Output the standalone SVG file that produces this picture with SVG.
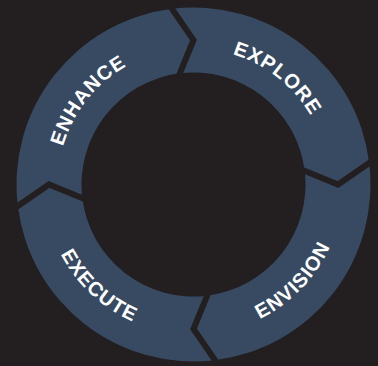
<svg xmlns="http://www.w3.org/2000/svg" width="378" height="366" viewBox="0 0 378 366">
<style>
.seg{fill:#374a62}
.sep{fill:none;stroke:#231f20;stroke-width:6;stroke-linecap:square;stroke-linejoin:miter}
.lbl{font-family:"Liberation Sans",Arial,sans-serif;font-weight:bold;font-size:20px;fill:#ffffff;letter-spacing:1px}
</style>
<defs>
<path id="pExplore" d="M143.22,58.14 A136,136 0 0 1 328.08,204.13"/>
<path id="pEnhance" d="M66.96,234.34 A136,136 0 0 1 213.60,49.99"/>
<path id="pEnvision" d="M157.21,330.04 A150,150 0 0 0 337.69,143.15"/>
<path id="pExecute" d="M47.34,150.76 A150,150 0 0 0 237.36,327.95"/>
</defs>
<rect width="378" height="366" fill="#231f20"/>
<g id="explore">
<path class="seg" d="M171.93,8.82 A177,177 0 0 1 369.18,162.93 L338,184.5 L304.67,170.85 A112,112 0 0 0 179.85,73.33 L193.5,40 Z"/>
<text class="lbl" text-anchor="middle"><textPath href="#pExplore" startOffset="50%">EXPLORE</textPath></text>
</g>
<g id="envision">
<path class="seg" d="M369.18,162.93 A177,177 0 0 1 215.07,360.18 L193.5,329 L207.15,295.67 A112,112 0 0 0 304.67,170.85 L338,184.5 Z"/>
<text class="lbl" text-anchor="middle"><textPath href="#pEnvision" startOffset="50%">ENVISION</textPath></text>
</g>
<g id="execute">
<path class="seg" d="M215.07,360.18 A177,177 0 0 1 17.82,206.07 L49,184.5 L82.33,198.15 A112,112 0 0 0 207.15,295.67 L193.5,329 Z"/>
<text class="lbl" text-anchor="middle"><textPath href="#pExecute" startOffset="50%">EXECUTE</textPath></text>
</g>
<g id="enhance">
<path class="seg" d="M17.82,206.07 A177,177 0 0 1 171.93,8.82 L193.5,40 L179.85,73.33 A112,112 0 0 0 82.33,198.15 L49,184.5 Z"/>
<text class="lbl" text-anchor="middle"><textPath href="#pEnhance" startOffset="50%">ENHANCE</textPath></text>
</g>
<g id="connectors">
<polyline class="sep" points="171.93,8.82 193.5,40 179.85,73.33"/>
<polyline class="sep" points="369.18,162.93 338,184.5 304.67,170.85"/>
<polyline class="sep" points="215.07,360.18 193.5,329 207.15,295.67"/>
<polyline class="sep" points="17.82,206.07 49,184.5 82.33,198.15"/>
</g>
</svg>
